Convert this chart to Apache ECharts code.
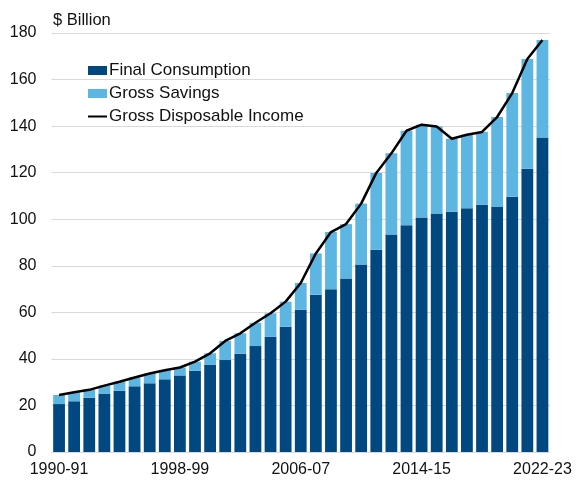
<!DOCTYPE html>
<html>
<head>
<meta charset="utf-8">
<script src="https://cdn.jsdelivr.net/npm/echarts@6/dist/echarts.min.js"></script>
<style>
  html, body { margin: 0; padding: 0; background: #fff; }
  #chart { width: 576px; height: 480px; }
</style>
</head>
<body>
<div id="chart"></div>
<script>
// Financial years, 1990-91 to 2022-23
const years = [
  '1990-91','1991-92','1992-93','1993-94','1994-95','1995-96','1996-97','1997-98',
  '1998-99','1999-00','2000-01','2001-02','2002-03','2003-04','2004-05','2005-06',
  '2006-07','2007-08','2008-09','2009-10','2010-11','2011-12','2012-13','2013-14',
  '2014-15','2015-16','2016-17','2017-18','2018-19','2019-20','2020-21','2021-22',
  '2022-23'
];

// $ billion
const finalConsumption = [
  20.6, 21.8, 23.3, 25.1, 26.3, 28.2, 29.5, 31.2,
  32.9, 34.9, 37.4, 39.5, 42.2, 45.5, 49.5, 53.8,
  61.1, 67.6, 69.9, 74.5, 80.5, 86.9, 93.4, 97.4,
  100.7, 102.5, 103.2, 104.7, 106.2, 105.2, 109.7, 121.7,
  135.1
];

const grossSavings = [
  3.9, 3.9, 3.4, 3.4, 3.9, 3.8, 4.2, 3.9,
  3.4, 3.9, 5.0, 8.2, 8.8, 10.0, 10.1, 10.8,
  11.5, 17.7, 24.6, 23.4, 26.2, 33.0, 34.9, 40.6,
  39.9, 37.3, 31.4, 31.6, 31.3, 38.7, 44.5, 47.1,
  41.9
];

const grossDisposableIncome = [
  24.5, 25.7, 26.7, 28.5, 30.2, 32.0, 33.7, 35.1,
  36.3, 38.8, 42.4, 47.7, 51.0, 55.5, 59.6, 64.6,
  72.6, 85.3, 94.5, 97.9, 106.7, 119.9, 128.3, 138.0,
  140.6, 139.8, 134.6, 136.3, 137.5, 143.9, 154.2, 168.8,
  177.0
];

const FONT = 'Liberation Sans, Arial, sans-serif';
const TEXT = '#111111';
const DARK = '#00487f';
const LIGHT = '#5db6e1';

const chart = echarts.init(document.getElementById('chart'), null, { renderer: 'canvas' });

chart.setOption({
  animation: false,
  backgroundColor: '#ffffff',
  title: {
    text: '$ Billion',
    left: 48,
    top: 7,
    textStyle: { fontFamily: FONT, fontSize: 16.5, fontWeight: 'normal', color: TEXT }
  },
  legend: {
    orient: 'vertical',
    left: 87,
    top: 62,
    padding: 0,
    itemWidth: 19,
    itemHeight: 9,
    itemGap: 6,
    textStyle: { fontFamily: FONT, fontSize: 17, color: TEXT, padding: [0, 0, 0, -3] },
    data: [
      { name: 'Final Consumption', icon: 'rect' },
      { name: 'Gross Savings', icon: 'rect' },
      // plain line key, no marker
      { name: 'Gross Disposable Income', itemStyle: { opacity: 0 } }
    ]
  },
  grid: { left: 51.5, right: 26, top: 33, bottom: 28, containLabel: false },
  xAxis: {
    type: 'category',
    data: years,
    axisTick: { show: false },
    axisLine: { show: true, lineStyle: { color: '#d9d9d9', width: 1 } },
    axisLabel: {
      interval: 7,
      margin: 10,
      fontFamily: FONT,
      fontSize: 16,
      color: TEXT
    }
  },
  yAxis: {
    type: 'value',
    min: 0,
    max: 180,
    interval: 20,
    axisLine: { show: false },
    axisTick: { show: false },
    splitLine: { lineStyle: { color: '#d9d9d9', width: 1 } },
    axisLabel: { margin: 15, fontFamily: FONT, fontSize: 16, color: TEXT }
  },
  series: [
    {
      name: 'Final Consumption',
      type: 'bar',
      stack: 'total',
      data: finalConsumption,
      barCategoryGap: '22%',
      itemStyle: { color: DARK }
    },
    {
      name: 'Gross Savings',
      type: 'bar',
      stack: 'total',
      data: grossSavings,
      itemStyle: { color: LIGHT }
    },
    {
      name: 'Gross Disposable Income',
      type: 'line',
      data: grossDisposableIncome,
      symbol: 'none',
      z: 5,
      lineStyle: { color: '#000000', width: 2.5 },
      itemStyle: { color: '#000000' }
    }
  ]
});
</script>
</body>
</html>
